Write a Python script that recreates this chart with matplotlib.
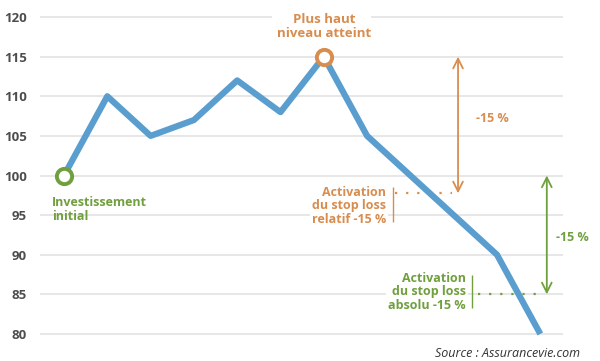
import matplotlib.pyplot as plt
import matplotlib as mpl

BLUE = '#5a9ecf'
ORANGE = '#d88d4e'
GREEN = '#70a03e'
GRAY_TXT = '#4d4d4d'
GRID = '#e3e3e3'

mpl.rcParams['font.family'] = ['Open Sans', 'DejaVu Sans']

# Data
periods = list(range(12))
values = [100, 110, 105, 107, 112, 108, 115, 105, 100, 95, 90, 80]
yticks = [80, 85, 90, 95, 100, 105, 110, 115, 120]
peak = 115
drop = 0.15
initial = values[0]
stop_rel = peak * (1 - drop)
stop_abs = initial * (1 - drop)

fig = plt.figure(figsize=(6.0, 3.61), dpi=100)
ax = fig.add_axes([40 / 600, 0, 523 / 600, 1])
ax.set_xlim(-0.554, 11.524)
ax.set_ylim(76.59, 122.15)
for s in ax.spines.values():
    s.set_visible(False)
ax.set_xticks([])
ax.set_yticks(yticks)
ax.tick_params(axis='y', length=0, pad=9.5, labelsize=9.5, labelcolor=GRAY_TXT)
for t in ax.get_yticklabels():
    t.set_fontweight('bold')

# Grid lines (top one broken around the peak label)
for y in yticks:
    if y == 120:
        ax.hlines(y, -0.554, 4.8, color=GRID, lw=1.2, zorder=0)
        ax.hlines(y, 7.1, 11.524, color=GRID, lw=1.2, zorder=0)
    else:
        ax.hlines(y, -0.554, 11.524, color=GRID, lw=1.2, zorder=0)

# Main line
ax.plot(periods, values, color=BLUE, lw=4.5, solid_capstyle='butt', zorder=3)

# Markers
ax.plot(periods[0], values[0], 'o', ms=11, mfc='white', mec=GREEN, mew=2.8, zorder=5)
ax.plot(periods[6], values[6], 'o', ms=11, mfc='white', mec=ORANGE, mew=2.8, zorder=5)

ax.text(6.0, 118.8, "Plus haut\nniveau atteint", color=ORANGE, fontsize=9.5,
        fontweight='bold', ha='center', va='center', linespacing=1.15)
ax.text(-0.28, 95.7, "Investissement\ninitial", color=GREEN, fontsize=9,
        fontweight='bold', ha='left', va='center', linespacing=1.1)

# Relative stop loss
ax.annotate("", xy=(9.1, peak), xytext=(9.1, stop_rel),
            arrowprops=dict(arrowstyle='<->,head_length=0.7,head_width=0.35',
                            color=ORANGE, lw=1.3, shrinkA=0, shrinkB=0))
ax.text(9.51, 107.2, "-15 %", color=ORANGE, fontsize=9, fontweight='bold',
        ha='left', va='center')
ax.hlines(stop_rel, 7.64, 8.95, color=ORANGE, lw=1.6, linestyles=(0, (1, 4)), zorder=2)
ax.text(7.44, 96.2, "Activation\ndu stop loss\nrelatif -15 %", color=ORANGE, fontsize=9,
        fontweight='bold', ha='right', va='center', linespacing=1.05,
        bbox=dict(fc='white', ec='none', pad=1.5), zorder=4)
ax.vlines(7.6, 94.07, 98.6, color=ORANGE, lw=1.0, zorder=4)

# Absolute stop loss
ax.annotate("", xy=(11.15, initial), xytext=(11.15, stop_abs),
            arrowprops=dict(arrowstyle='<->,head_length=0.7,head_width=0.35',
                            color=GREEN, lw=1.3, shrinkA=0, shrinkB=0))
ax.text(11.36, 92.2, "-15 %", color=GREEN, fontsize=9, fontweight='bold',
        ha='left', va='center')
ax.hlines(stop_abs, 9.56, 11.05, color=GREEN, lw=1.6, linestyles=(0, (1, 4)), zorder=2)
ax.text(9.28, 85.36, "Activation\ndu stop loss\nabsolu -15 %", color=GREEN, fontsize=9,
        fontweight='bold', ha='right', va='center', linespacing=1.05,
        bbox=dict(fc='white', ec='none', pad=1.5), zorder=4)
ax.vlines(9.42, 83.3, 87.5, color=GREEN, lw=1.0, zorder=4)

ax.text(11.92, 77.5, "Source : Assurancevie.com", color='#333333', fontsize=9,
        style='italic', ha='right', va='center')

plt.savefig('out.png', dpi=100)
